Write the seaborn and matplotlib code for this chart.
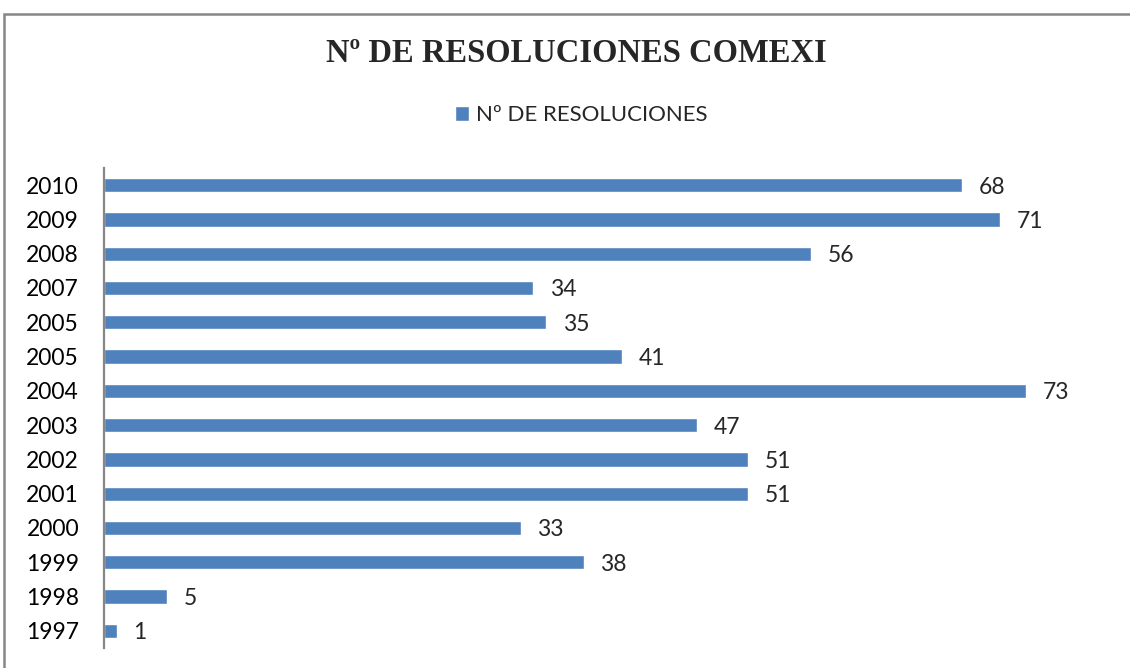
import pandas as pd
import matplotlib
matplotlib.use("Agg")
import matplotlib.pyplot as plt
from matplotlib.patches import Patch, Rectangle
import seaborn as sns

# data, top to bottom as in the chart
years = ["2010", "2009", "2008", "2007", "2005", "2005", "2004",
         "2003", "2002", "2001", "2000", "1999", "1998", "1997"]
resoluciones = [68, 71, 56, 34, 35, 41, 73, 47, 51, 51, 33, 38, 5, 1]

title = "Nº DE RESOLUCIONES COMEXI"
series_name = "Nº DE RESOLUCIONES"

BAR = "#4F81BD"
GRAY = "#868686"

sns.set_style("white")
plt.rcParams["font.family"] = ["Lato", "DejaVu Sans"]

# the year 2005 shows up twice, so every bar gets its own slot
df = pd.DataFrame({"slot": [str(i) for i in range(len(years))],
                   "valor": resoluciones})

fig = plt.figure(figsize=(11.3, 6.68), dpi=100)
ax = fig.add_axes([104 / 1130, 20 / 668, (1114 - 104) / 1130, (648 - 168) / 668])

sns.barplot(data=df, x="valor", y="slot", orient="h", color=BAR,
            saturation=1, width=0.42, ax=ax)

ax.set_xlim(0, 80)
ax.set_yticks(range(len(years)))
ax.set_yticklabels(years)
ax.set_xlabel("")
ax.set_ylabel("")
ax.set_xticks([])
ax.tick_params(axis="y", length=0, pad=18, labelsize=16.5, colors="black")

for side in ["top", "right", "bottom"]:
    ax.spines[side].set_visible(False)
ax.spines["left"].set_color(GRAY)
ax.spines["left"].set_linewidth(1.6)

labels = ax.bar_label(ax.containers[0], padding=12, fontsize=16.5)
for t in labels:
    t.set_va("center_baseline")

fig.text(576 / 1130, 1 - 53 / 668, title, ha="center", va="center",
         fontsize=23.5, fontweight="bold", family="Liberation Serif")

fig.legend(handles=[Patch(facecolor=BAR, label=series_name)],
           loc="center", bbox_to_anchor=(581 / 1130, 1 - 115 / 668),
           frameon=False, fontsize=16, handlelength=0.65, handleheight=0.65,
           handletextpad=0.3)

# outer chart frame
fig.patches.append(Rectangle((3.5 / 1130, -0.2), 1.2, 1.2 - 13.5 / 668,
                             transform=fig.transFigure, fill=False,
                             edgecolor=GRAY, linewidth=1.8))

fig.savefig("out.png", dpi=100)
